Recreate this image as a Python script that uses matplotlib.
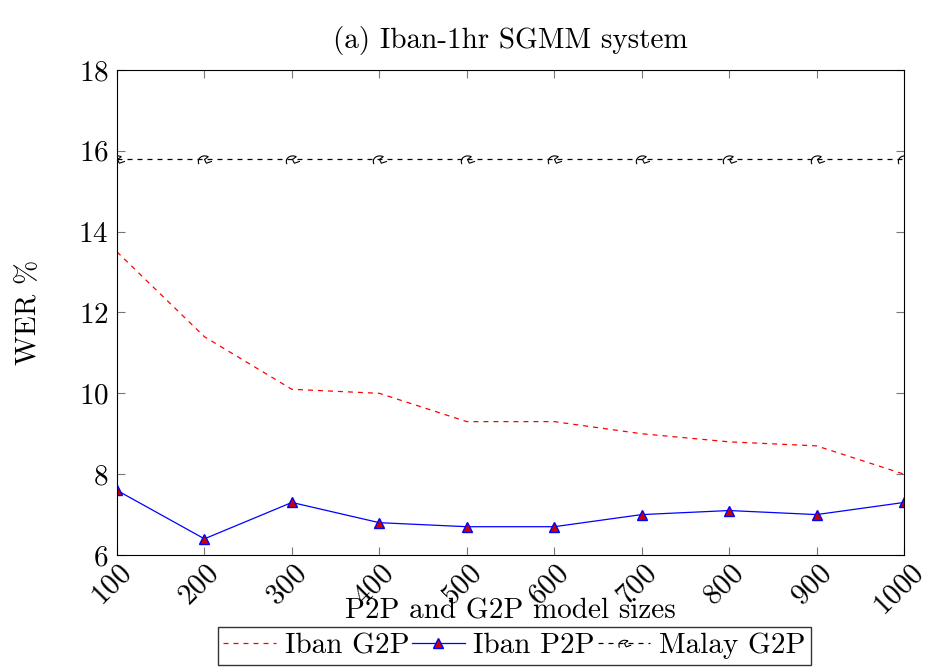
import matplotlib
matplotlib.use("Agg")
import matplotlib.pyplot as plt
import matplotlib.transforms as mtransforms
from matplotlib.path import Path
import numpy as np

plt.rcParams['font.family'] = 'serif'
plt.rcParams['font.serif'] = ['cmr10', 'DejaVu Serif']
plt.rcParams['mathtext.fontset'] = 'cm'
plt.rcParams['axes.formatter.use_mathtext'] = True

sizes = [100, 200, 300, 400, 500, 600, 700, 800, 900, 1000]
iban_g2p = [13.5, 11.4, 10.1, 10.0, 9.3, 9.3, 9.0, 8.8, 8.7, 8.0]
iban_p2p = [7.6, 6.4, 7.3, 6.8, 6.7, 6.7, 7.0, 7.1, 7.0, 7.3]
malay_g2p = [15.8] * 10

# odd hook-like glyph used for the Malay markers
hook = Path([(-0.6, -0.5), (-0.9, 0.1), (-0.2, 0.6), (0.4, 0.3),
             (0.0, 0.0), (0.2, -0.4), (0.8, -0.2)],
            [Path.MOVETO, Path.CURVE4, Path.CURVE4, Path.CURVE4,
             Path.LINETO, Path.LINETO, Path.LINETO])

FS = 21

fig = plt.figure(figsize=(9.32, 6.69), dpi=100)
ax = fig.add_axes([0.1255, 0.1704, 0.8445, 0.725])

ax.plot(sizes, iban_g2p, color='red', lw=0.9, dashes=(4, 4), label='Iban G2P')
ax.plot(sizes, iban_p2p, color='blue', lw=0.9, marker='^', ms=7.5,
        mfc='#cc0000', mec='blue', mew=1.0, label='Iban P2P')
ax.plot(sizes, malay_g2p, color='black', lw=0.9, dashes=(4, 4), marker=hook,
        ms=12, mfc='none', mec='black', mew=0.8, label='Malay G2P')

ax.set_xlim(100, 1000)
ax.set_ylim(6, 18)
ax.set_xticks(sizes)
ax.set_yticks([6, 8, 10, 12, 14, 16, 18])
ax.tick_params(direction='in', length=6, color='#777777', labelsize=FS,
               top=True, right=True)
ax.tick_params(axis='y', pad=6)
shift = mtransforms.ScaledTranslation(-5 / 100, 0, fig.dpi_scale_trans)
for lab in ax.get_xticklabels():
    lab.set_rotation(45)
    lab.set_ha('center')
    lab.set_va('top')
    lab.set_transform(lab.get_transform() + shift)

ax.set_title('(a) Iban-1hr SGMM system', fontsize=FS, pad=16)
ax.set_xlabel('P2P and G2P model sizes', fontsize=FS, labelpad=-16)
ax.set_ylabel('WER %', fontsize=FS, labelpad=26)

ax.legend(loc='upper center', bbox_to_anchor=(0.505, -0.148), ncol=3,
          fontsize=FS, frameon=True, fancybox=False, edgecolor='black',
          handlelength=1.8, handletextpad=0.3, columnspacing=0.1,
          borderpad=0.2, borderaxespad=0, markerscale=0.9)

fig.savefig('out.png', dpi=100)
